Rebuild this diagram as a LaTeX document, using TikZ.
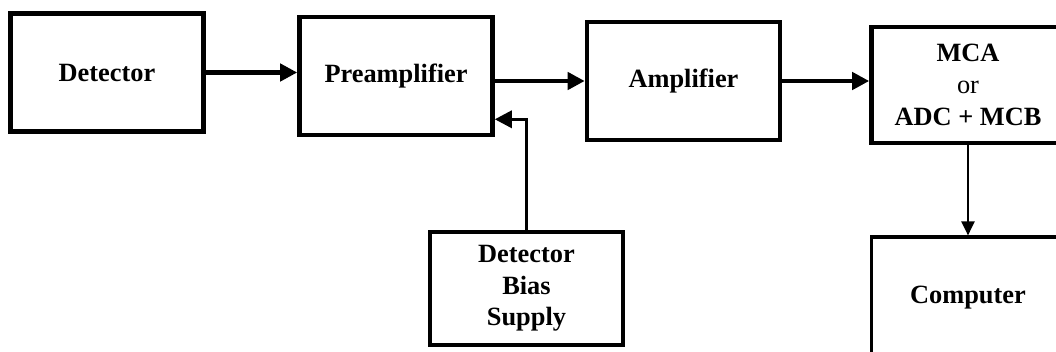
\documentclass[tikz,border=0pt]{standalone}
\usepackage{fontspec}
\setmainfont{Liberation Serif}
\usetikzlibrary{arrows.meta,positioning,calc}
\tikzset{
  block/.style={rectangle, draw=black, line width=2.6pt, align=center,
                minimum width=3.86cm, minimum height=2.36cm, inner sep=2pt,
                font=\fontsize{15}{18}\selectfont\bfseries},
  arr/.style={-{Triangle[length=3.4mm,width=3.4mm]}, line width=2.5pt},
  thinarr/.style={-{Triangle[length=2.8mm,width=2.6mm]}, line width=1.2pt},
}
\begin{document}
\begin{tikzpicture}
\useasboundingbox (0,0) rectangle (21.12,-7.04);
% signal chain
\node[block] (det) at (2.14,-1.45) {Detector};
\node[block] (pre) at (7.92,-1.52) {Preamplifier};
\node[block] (amp) at (13.67,-1.62) {Amplifier};
\node[block, minimum height=2.32cm] (mca) at (19.36,-1.70)
  {MCA\\{\mdseries or}\\ADC + MCB};
% bias and computer
\node[block, minimum height=2.26cm] (bias) at (10.53,-5.77) {Detector\\Bias\\Supply};
\node[block, minimum height=2.44cm, line width=1.8pt] (comp) at (19.36,-5.96) {Computer};
% connections
\coordinate (biasin) at ($(pre.south east)+(0,0.36)$);
\draw[arr] (det.east) -- (det.east -| pre.west);
\draw[arr] (amp.west -| pre.east) -- (amp.west);
\draw[arr] (amp.east) -- (amp.east -| mca.west);
\draw[arr, line width=1.9pt] (bias.north) |- (biasin);
\draw[thinarr] (mca.south) -- (comp.north);
\end{tikzpicture}
\end{document}
